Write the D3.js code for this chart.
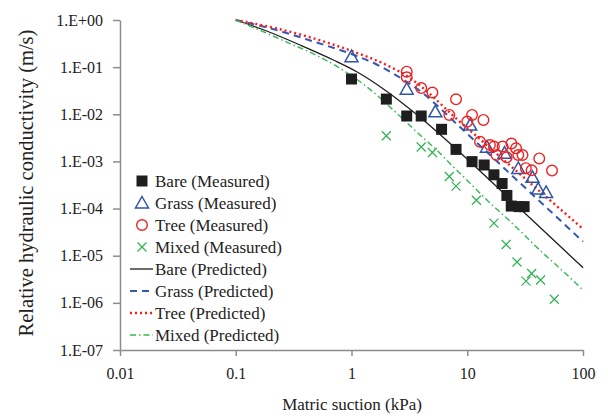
<!DOCTYPE html>
<html>
<head>
<meta charset="utf-8">
<script src="https://cdn.jsdelivr.net/npm/d3@7"></script>
<style>
  body { margin: 0; background: #fff; }
  svg, svg text { font-family: "Liberation Serif", "Times New Roman", serif; }
  .axis path, .axis line { stroke: #8c8c8c; stroke-width: 1.5; }
  .axis text { font-size: 16px; fill: #222; font-family: "Liberation Serif", serif; }
</style>
</head>
<body>
<svg id="chart" width="608" height="418"></svg>
<script>
// measured points [suction kPa, relative k]
var bareMeasured = [[1, 0.056], [2, 0.021], [3, 0.0092], [4, 0.0092], [6, 0.0048], [8, 0.0018],
  [11, 0.00099], [14, 0.00084], [17, 0.00052], [20, 0.00034], [22, 0.00019], [24, 0.000113],
  [28, 0.00011], [31, 0.00011]];
var grassMeasured = [[1, 0.167], [3, 0.034], [5.3, 0.0113], [10.6, 0.0059], [14.8, 0.0020],
  [21, 0.0015], [27.6, 0.00071], [36.6, 0.00046], [41, 0.00026], [48, 0.00022]];
var treeMeasured = [[3, 0.080], [3, 0.061], [4, 0.036], [5, 0.029], [8, 0.0208], [7, 0.0097],
  [11, 0.0097], [10, 0.0070], [13.8, 0.0076], [12.9, 0.0026], [15.7, 0.00223], [17, 0.00207],
  [20.2, 0.00207], [24.1, 0.0024], [26.4, 0.0019], [17.9, 0.00137], [21.9, 0.00122],
  [27.6, 0.00137], [30, 0.00137], [41.9, 0.00116], [32.1, 0.00072], [36, 0.00065], [54, 0.00064]];
var mixedMeasured = [[2, 0.0035], [4, 0.00202], [5, 0.00155], [7, 0.00048], [8, 0.00030],
  [12, 0.00015], [17, 4.9e-5], [21.7, 1.73e-5], [26.9, 7.35e-6], [36, 4.2e-6], [32.2, 2.9e-6],
  [43, 3.05e-6], [56.5, 1.19e-6]];

// predicted curves
var barePredicted = [[0.1, 1], [0.185, 0.584], [0.359, 0.295], [0.697, 0.142], [1.11, 0.080],
  [2.01, 0.0309], [3.66, 0.00985], [5.82, 0.00374], [8.11, 0.0018], [11.3, 0.000852],
  [15.2, 0.00043], [63.2, 1.6e-5], [100, 5.56e-6]];
var grassPredicted = [[0.1, 1], [0.241, 0.584], [0.468, 0.350], [1, 0.190], [1.65, 0.1138],
  [2.62, 0.0603], [3.91, 0.0312], [5.44, 0.01573], [8.11, 0.00622], [12.4, 0.002366],
  [19.2, 0.000869], [28.6, 0.000348], [42.5, 0.000141], [63.2, 5.71e-5], [100, 1.99e-5]];
var treePredicted = [[0.1, 1], [0.222, 0.667], [0.468, 0.409], [1.04, 0.213], [2.01, 0.111],
  [3.2, 0.0588], [4.76, 0.0269], [7.59, 0.0092], [12.1, 0.0034], [22.6, 0.000886],
  [32.6, 0.000406], [51.9, 0.000150], [74.7, 6.92e-5], [100, 3.7e-5]];
var mixedPredicted = [[0.1, 1], [0.162, 0.605], [0.275, 0.341], [0.468, 0.192], [0.796, 0.0945],
  [1.35, 0.0385], [2.30, 0.0123], [3.91, 0.00363], [5.44, 0.00175], [7.58, 0.00077],
  [10.6, 0.000343], [13.8, 0.000179], [24.2, 5.0e-5], [45.4, 1.12e-5], [63.2, 5.4e-6], [100, 1.87e-6]];

var xTicks = [0.01, 0.1, 1, 10, 100];
var yTicks = [1, 1e-1, 1e-2, 1e-3, 1e-4, 1e-5, 1e-6, 1e-7];

var measured = [
  { name: 'Bare (Measured)', data: bareMeasured, shape: 'square', color: '#1e1e1e' },
  { name: 'Grass (Measured)', data: grassMeasured, shape: 'triangle', color: '#3056a8' },
  { name: 'Tree (Measured)', data: treeMeasured, shape: 'circle', color: '#ee2222' },
  { name: 'Mixed (Measured)', data: mixedMeasured, shape: 'cross', color: '#2db24f' }
];
var predicted = [
  { name: 'Bare (Predicted)', data: barePredicted, color: '#1e1e1e', dash: null, width: 1.3 },
  { name: 'Grass (Predicted)', data: grassPredicted, color: '#3358b0', dash: '7,5', width: 2 },
  { name: 'Tree (Predicted)', data: treePredicted, color: '#ff1a1a', dash: '2,3', width: 2.4 },
  { name: 'Mixed (Predicted)', data: mixedPredicted, color: '#35b852', dash: '6,3,1.5,3', width: 1.4 }
];

var svg = d3.select('#chart');

var x = d3.scaleLog()
    .domain([0.01, 100])
    .range([120, 583]);

var y = d3.scaleLog()
    .domain([1e-7, 1])
    .range([350, 20]);

function expLabel(d) {
  var e = Math.round(Math.log10(d));
  return '1.E' + (e < 0 ? '-' : '+') + (Math.abs(e) < 10 ? '0' : '') + Math.abs(e);
}

svg.append('g')
    .attr('class', 'axis')
    .attr('transform', 'translate(0,350)')
    .call(d3.axisBottom(x).tickValues(xTicks).tickFormat(function (d) { return String(d); })
      .tickSize(6).tickSizeOuter(0).tickPadding(12))
    .attr('font-family', null);

svg.append('g')
    .attr('class', 'axis')
    .attr('transform', 'translate(120,0)')
    .call(d3.axisLeft(y).tickValues(yTicks).tickFormat(expLabel)
      .tickSize(7).tickSizeOuter(0).tickPadding(10))
    .attr('font-family', null);

svg.append('text')
    .attr('x', 352)
    .attr('y', 410)
    .attr('text-anchor', 'middle')
    .style('font-size', '17px')
    .attr('fill', '#222')
    .text('Matric suction (kPa)');

svg.append('text')
    .attr('transform', 'translate(33,183) rotate(-90)')
    .attr('text-anchor', 'middle')
    .style('font-size', '20.5px')
    .attr('fill', '#222')
    .text('Relative hydraulic conductivity (m/s)');

var line = d3.line()
    .x(function (d) { return x(d[0]); })
    .y(function (d) { return y(d[1]); })
    .curve(d3.curveMonotoneX);

var plot = svg.append('g');

plot.selectAll('path.pred')
    .data(predicted)
    .enter()
  .append('path')
    .attr('class', 'pred')
    .attr('d', function (d) { return line(d.data); })
    .attr('fill', 'none')
    .attr('stroke', function (d) { return d.color; })
    .attr('stroke-width', function (d) { return d.width; })
    .attr('stroke-dasharray', function (d) { return d.dash; });

function drawMarker(g, shape, color) {
  if (shape === 'square') {
    g.append('rect').attr('x', -5.5).attr('y', -5.5).attr('width', 11).attr('height', 11)
      .attr('fill', color);
  } else if (shape === 'triangle') {
    g.append('path').attr('d', 'M0,-6.5L6.5,5L-6.5,5Z')
      .attr('fill', 'none').attr('stroke', color).attr('stroke-width', 1.5);
  } else if (shape === 'circle') {
    g.append('circle').attr('r', 5.3)
      .attr('fill', 'none').attr('stroke', color).attr('stroke-width', 1.4);
  } else {
    g.append('path').attr('d', 'M-4.5,-4.5L4.5,4.5M-4.5,4.5L4.5,-4.5')
      .attr('stroke', color).attr('stroke-width', 1.2);
  }
}

measured.forEach(function (s) {
  plot.append('g')
    .selectAll('g')
      .data(s.data)
      .enter()
    .append('g')
      .attr('transform', function (d) { return 'translate(' + x(d[0]) + ',' + y(d[1]) + ')'; })
      .each(function () { drawMarker(d3.select(this), s.shape, s.color); });
});

// legend
var legend = svg.append('g').attr('transform', 'translate(0,181)');
var rowH = 22;

measured.forEach(function (s, i) {
  var row = legend.append('g').attr('transform', 'translate(0,' + (i * rowH) + ')');
  drawMarker(row.append('g').attr('transform', 'translate(142,0)'), s.shape, s.color);
  row.append('text').attr('x', 155).attr('y', 6).style('font-size', '17px')
    .attr('fill', '#222').text(s.name);
});

predicted.forEach(function (s, i) {
  var row = legend.append('g').attr('transform', 'translate(0,' + ((i + 4) * rowH) + ')');
  row.append('line').attr('x1', 130).attr('x2', 153).attr('y1', 0).attr('y2', 0)
    .attr('stroke', s.color).attr('stroke-width', s.width).attr('stroke-dasharray', s.dash);
  row.append('text').attr('x', 155).attr('y', 6).style('font-size', '17px')
    .attr('fill', '#222').text(s.name);
});
</script>
</body>
</html>
